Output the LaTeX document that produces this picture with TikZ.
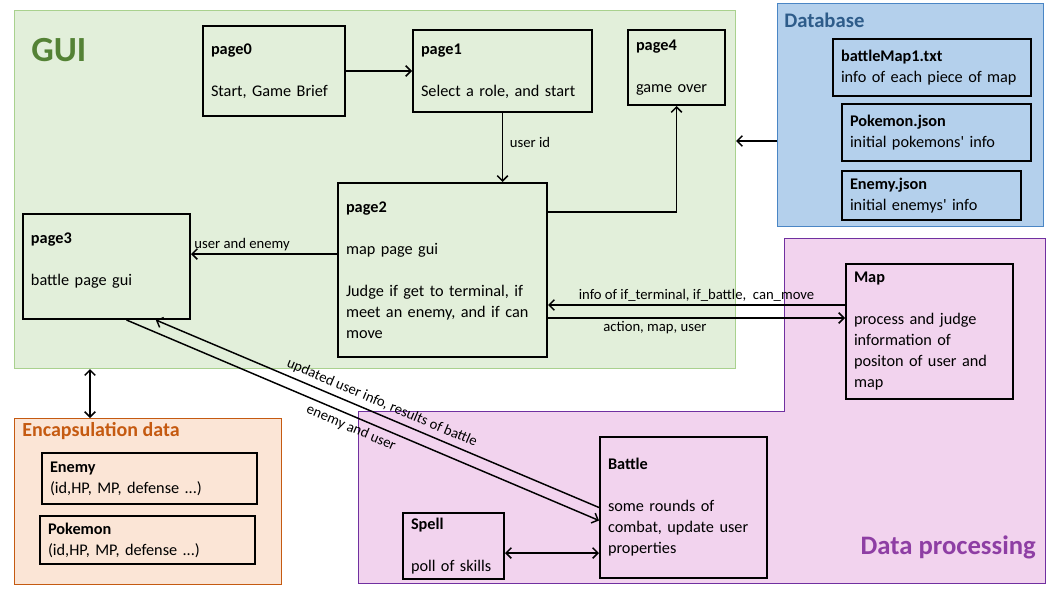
\documentclass[tikz,border=0pt]{standalone}
\usepackage{fontspec}
\setmainfont{Carlito}
\usetikzlibrary{arrows.meta,positioning}

\definecolor{guifill}{HTML}{E2EFDA}
\definecolor{guiline}{HTML}{A9D18E}
\definecolor{guitext}{HTML}{548235}
\definecolor{dbfill}{HTML}{B4D0EC}
\definecolor{dbline}{HTML}{4A86C5}
\definecolor{dbtext}{HTML}{2E5C8A}
\definecolor{procfill}{HTML}{F2D3EE}
\definecolor{procline}{HTML}{7030A0}
\definecolor{proctext}{HTML}{8E3EA4}
\definecolor{encfill}{HTML}{FBE5D6}
\definecolor{encline}{HTML}{C55A11}

\tikzset{
  box/.style={draw,line width=1.5pt,anchor=north west,align=left,inner xsep=6pt,inner ysep=0pt,font=\fontsize{12.2}{15.75}\selectfont},
  region/.style={draw,line width=0.75pt,anchor=north west,inner sep=0pt},
  flow/.style={line width=1.1pt,->},
  lbl/.style={font=\fontsize{11}{12}\selectfont,inner sep=2pt},
  heading/.style={font=\bfseries,anchor=west,inner sep=0pt}
}

\begin{document}
\begin{tikzpicture}[x=0.75pt,y=-0.75pt,>={Straight Barb[length=4pt,width=8pt]}]
  \useasboundingbox (0,0) rectangle (1055,593);

  % groups
  \node[region,fill=guifill,draw=guiline,minimum width=540.75pt,minimum height=268.5pt] (gui) at (14,10) {};
  \node[region,fill=dbfill,draw=dbline,minimum width=199.5pt,minimum height=167.25pt] (db) at (777,3) {};
  \node[region,fill=encfill,draw=encline,minimum width=200.25pt,minimum height=124.5pt] (encap) at (14,418) {};
  \filldraw[fill=procfill,draw=procline,line width=0.75pt]
    (784,238) -- (1045,238) -- (1045,583) -- (358,583) -- (358,411) -- (784,411) -- cycle;

  \node[heading,text=guitext,font=\fontsize{26.5}{30}\selectfont\bfseries] (guititle) at (31,50) {GUI};
  \node[heading,text=dbtext,font=\fontsize{15.5}{18}\selectfont\bfseries] (dbtitle) at (784,20) {Database};
  \node[heading,text=encline,font=\fontsize{15}{18}\selectfont\bfseries] (enctitle) at (22,431) {Encapsulation data};
  \node[heading,anchor=east,text=proctext,font=\fontsize{20}{22}\selectfont\bfseries] (proctitle) at (1036,547) {Data processing};

  % gui pages
  \node[box,text width=94.5pt,minimum height=67.5pt] (page0) at (202,25) {\textbf{page0}\\[15.75pt]Start, Game Brief};
  \node[box,text width=122.25pt,minimum height=61.5pt] (page1) at (412,29) {\textbf{page1}\\[15.75pt]Select a role, and start};
  \node[box,text width=60.75pt,minimum height=56.25pt] (page4) at (627,29) {\textbf{page4}\\[15.75pt]game over};
  \node[box,text width=144.75pt,minimum height=130.5pt] (page2) at (337,182) {\textbf{page2}\\[15.75pt]map page gui\\[15.75pt]Judge if get to terminal, if\\meet an enemy, and if can\\move};
  \node[box,text width=113.25pt,minimum height=78.75pt] (page3) at (22,213) {\textbf{page3}\\[15.75pt]battle page gui\\[-4pt]\mbox{}};

  % database files
  \node[box,text width=136.5pt,minimum height=42.75pt] (bmap) at (832,38) {\textbf{battleMap1.txt}\\info of each piece of map};
  \node[box,text width=129.75pt,minimum height=42.75pt] (pokejson) at (841,103) {\textbf{Pokemon.json}\\initial pokemons\textquotesingle{} info};
  \node[box,text width=122.25pt,minimum height=36.75pt] (enemyjson) at (841,170) {\textbf{Enemy.json}\\initial enemys\textquotesingle{} info};

  % processing
  \node[box,text width=113.25pt,minimum height=101.25pt] (map) at (845,263) {\textbf{Map}\\[15.75pt]process and judge\\information of\\positon of user and\\map};
  \node[box,text width=113.25pt,minimum height=105.75pt] (battle) at (599,436) {\textbf{Battle}\\[15.75pt]some rounds of\\combat, update user\\properties};
  \node[box,text width=63.75pt,minimum height=49.5pt] (spell) at (402,512) {\textbf{Spell}\\[15.75pt]poll of skills};

  % encapsulation
  \node[box,text width=149.25pt,minimum height=38.25pt] (enemy) at (41,452) {\textbf{Enemy}\\(id,HP, MP, defense ...)};
  \node[box,text width=149.25pt,minimum height=36pt] (pokemon) at (39,515) {\textbf{Pokemon}\\(id,HP, MP, defense ...)};

  % connectors
  \draw[flow] (page0.east) -- (page1.west);
  \draw[flow] (page1.south) -- (page1.south |- page2.north) node[lbl,pos=0.42,right=3pt] {user id};
  \draw[flow] ([yshift=-22.5pt]page2.north east) -| (page4.south);
  \draw[flow] (db.west |- 0,141) -- (gui.east |- 0,141);
  \draw[flow] (page2.west |- 0,254) -- (page3.east |- 0,254) node[lbl,pos=0.65,above] {user and enemy};
  \draw[flow] (map.west |- 0,305) -- (page2.east |- 0,305) node[lbl,midway,above] {info of if\_terminal, if\_battle,\ \ can\_move};
  \draw[flow] (page2.east |- 0,318) -- (map.west |- 0,318) node[lbl,pos=0.36,below] {action, map, user};
  \draw[flow] (battle.west) -- ([xshift=37pt]page3.south) node[lbl,pos=0.5,sloped,above,inner sep=3.5pt] {updated user info, results of battle};
  \draw[flow] ([xshift=15pt]page3.south) -- ([yshift=-9.75pt]battle.west) node[lbl,pos=0.485,sloped,below,inner sep=3.5pt] {enemy and user};
  \draw[flow,<->] (spell.east |- 0,553) -- (battle.west |- 0,553);
  \draw[flow,<->] (gui.south -| 90,0) -- (encap.north -| 90,0);
\end{tikzpicture}
\end{document}
